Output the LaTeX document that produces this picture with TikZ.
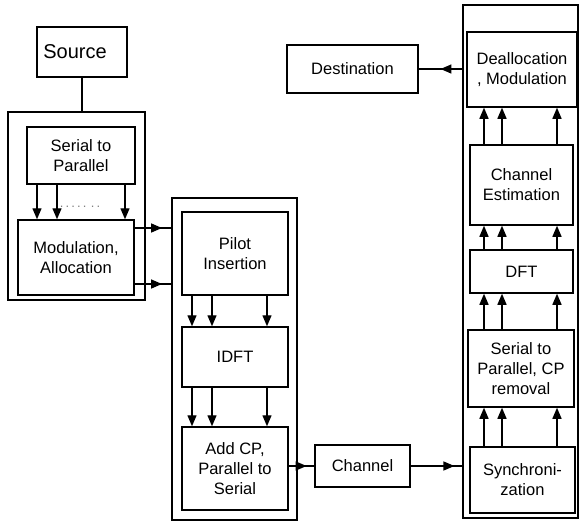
\documentclass[tikz,border=0pt]{standalone}
\usepackage{fontspec}
\setmainfont{Liberation Sans}
\usetikzlibrary{arrows.meta,decorations.markings}

\tikzset{
  blk/.style={draw, line width=1.5pt, align=center, inner sep=0pt,
    font=\fontsize{16.5}{20}\selectfont},
  grp/.style={draw, line width=1.7pt, inner sep=0pt},
  arr/.style={line width=1.4pt, -{Triangle[length=11pt,width=9pt]}},
  midarr/.style={line width=1.4pt, decoration={markings,
    mark=at position #1 with {\arrow{Triangle[length=11pt,width=9pt]}}},
    postaction=decorate}
}

\begin{document}
\begin{tikzpicture}[x=1pt, y=-1pt]
\useasboundingbox (0,0) rectangle (579,522);
% transmitter
\node[grp, minimum width=137, minimum height=188] (grp1) at (76.5,206) {};
\node[grp, minimum width=125, minimum height=322] (grp2) at (234.5,359) {};
\node[blk, minimum width=90, minimum height=50, font=\fontsize{20}{24}\selectfont] (src) at (82,52) {Source\hspace{14pt}};
\node[blk, minimum width=108, minimum height=57] (s2p) at (81,155.5) {Serial to\\Parallel};
\node[blk, minimum width=116, minimum height=75] (mod) at (76,257.5) {Modulation,\\Allocation};
\node[blk, minimum width=106, minimum height=83] (pilot) at (235,253.5) {Pilot\\Insertion};
\node[blk, minimum width=106, minimum height=60] (idft) at (235,357) {IDFT};
\node[blk, minimum width=106, minimum height=83] (addcp) at (235,468.5) {Add CP,\\Parallel to\\Serial};
\node[blk, minimum width=95, minimum height=42] (chan) at (362.5,466) {Channel};
% receiver
\node[grp, minimum width=115, minimum height=513] (grp3) at (520.5,261.5) {};
\node[blk, minimum width=131, minimum height=48] (dest) at (352.5,69) {Destination};
\node[blk, minimum width=110, minimum height=75] (dealloc) at (522,69.5) {Deallocation\\, Modulation};
\node[blk, minimum width=103, minimum height=80] (chest) at (521.5,185) {Channel\\Estimation};
\node[blk, minimum width=103, minimum height=43] (dft) at (521.5,271.5) {DFT};
\node[blk, minimum width=106, minimum height=77] (s2pcp) at (521,368.5) {Serial to\\Parallel, CP\\removal};
\node[blk, minimum width=105, minimum height=66] (sync) at (522.5,480) {Synchroni-\\zation};

\node[text=gray, font=\fontsize{13}{13}\selectfont] (dots1) at (80,207) {.\,.\,.\,.\,.\,\,.\,.};
\node[font=\fontsize{14}{14}\selectfont] (dots2) at (527,226) {.};

\draw[line width=1.4pt] (src.south) -- (src.south |- grp1.north);
\foreach \x in {37,57,125}
  \draw[arr] (\x,0 |- s2p.south) -- (\x,0 |- mod.north);
\foreach \x in {192,212,267} {
  \draw[arr] (\x,0 |- pilot.south) -- (\x,0 |- idft.north);
  \draw[arr] (\x,0 |- idft.south) -- (\x,0 |- addcp.north);
}
\foreach \x in {484,502,557} {
  \draw[arr] (\x,0 |- sync.north) -- (\x,0 |- s2pcp.south);
  \draw[arr] (\x,0 |- s2pcp.north) -- (\x,0 |- dft.south);
  \draw[arr] (\x,0 |- dft.north) -- (\x,0 |- chest.south);
  \draw[arr] (\x,0 |- chest.north) -- (\x,0 |- dealloc.south);
}
\draw[midarr=0.75] (mod.east |- 0,228) -- (grp2.west |- 0,228);
\draw[midarr=0.75] (mod.east |- 0,284) -- (grp2.west |- 0,284);
\draw[midarr=0.7] (addcp.east |- chan.west) -- (chan.west);
\draw[midarr=0.85] (chan.east) -- (grp3.west |- chan.east);
\draw[midarr=0.5] (grp3.west |- dest.east) -- (dest.east);
\end{tikzpicture}
\end{document}
